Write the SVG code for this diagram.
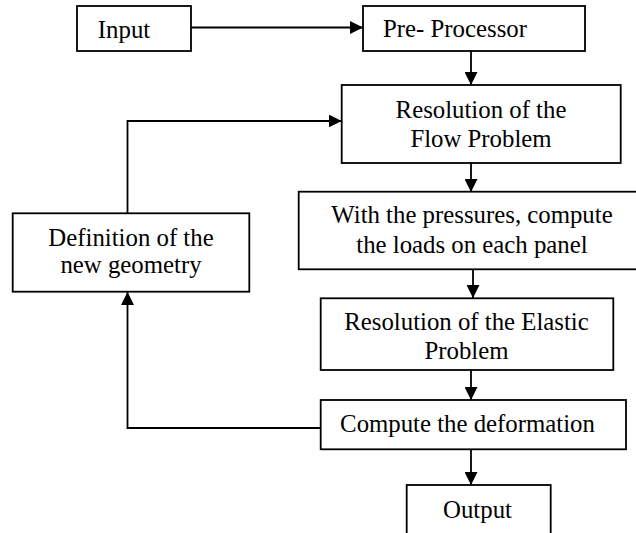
<svg xmlns="http://www.w3.org/2000/svg" width="636" height="533" viewBox="0 0 636 533">
<style>
rect{fill:#fff;stroke:#000;stroke-width:1.8}
text{font-family:"Liberation Serif","Times New Roman",serif;font-size:24.8px;fill:#000;text-anchor:middle}
.c{fill:none;stroke:#000;stroke-width:1.8}
</style>
<defs>
<marker id="a" markerUnits="userSpaceOnUse" markerWidth="14" markerHeight="13" refX="13" refY="6.5" orient="auto">
<path d="M0,0 L13,6.5 L0,13 Z" fill="#000"/>
</marker>
</defs>
<rect x="0" y="0" width="636" height="533" style="stroke:none"/>
<g id="connectors">
<line class="c" x1="191" y1="27.5" x2="363" y2="27.5" marker-end="url(#a)"/>
<line class="c" x1="471" y1="51" x2="471" y2="85" marker-end="url(#a)"/>
<line class="c" x1="471" y1="163" x2="471" y2="192" marker-end="url(#a)"/>
<line class="c" x1="473" y1="270" x2="473" y2="298" marker-end="url(#a)"/>
<line class="c" x1="471" y1="370" x2="471" y2="400" marker-end="url(#a)"/>
<line class="c" x1="471" y1="449" x2="471" y2="485" marker-end="url(#a)"/>
<polyline class="c" points="320.7,428 127.5,428 127.5,292" marker-end="url(#a)"/>
<polyline class="c" points="127.5,213.3 127.5,121 341.7,121" marker-end="url(#a)"/>
</g>
<g id="input">
<rect x="77" y="6" width="114" height="45"/>
<text x="124" y="38">Input</text>
</g>
<g id="preprocessor">
<rect x="363" y="6" width="222" height="45"/>
<text x="455" y="37">Pre- Processor</text>
</g>
<g id="flow">
<rect x="341.7" y="85" width="279" height="78"/>
<text x="481" y="118">Resolution of the</text>
<text x="481" y="146.7">Flow Problem</text>
</g>
<g id="definition">
<rect x="12.7" y="213.3" width="236.6" height="78.4"/>
<text x="131" y="245.7">Definition of the</text>
<text x="131" y="273.3">new geometry</text>
</g>
<g id="loads">
<rect x="298.7" y="191.7" width="350" height="77.6"/>
<text x="472" y="223.3">With the pressures, compute</text>
<text x="472" y="252.7">the loads on each panel</text>
</g>
<g id="elastic">
<rect x="320.7" y="298.3" width="292.6" height="71.7"/>
<text x="466.5" y="330">Resolution of the Elastic</text>
<text x="466.5" y="359">Problem</text>
</g>
<g id="deformation">
<rect x="320.7" y="400" width="305.3" height="49.3"/>
<text x="467.5" y="431.7">Compute the deformation</text>
</g>
<g id="output">
<rect x="406.7" y="485" width="144" height="60"/>
<text x="477.5" y="518.3">Output</text>
</g>
</svg>
